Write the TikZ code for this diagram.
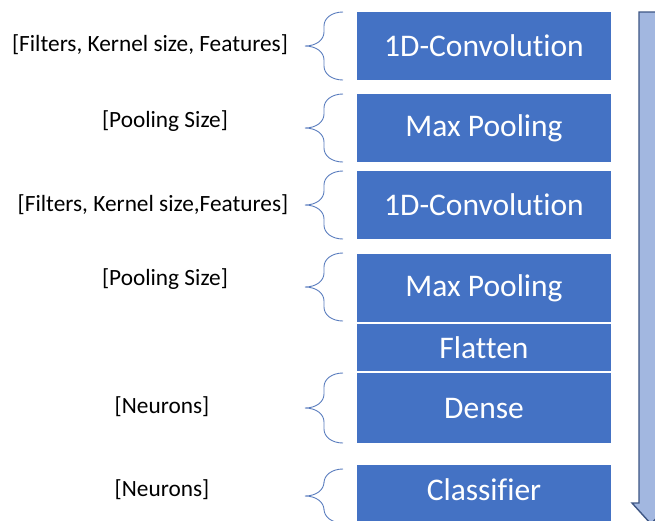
\documentclass[tikz,border=0pt]{standalone}
\usepackage{fontspec}
\setmainfont[Ligatures=NoCommon]{Carlito}
\definecolor{layerblue}{HTML}{4472C4}
\definecolor{flowfill}{HTML}{A2B7E0}
\definecolor{flowedge}{HTML}{3E5684}
\definecolor{bracecol}{HTML}{5A7DBE}
\tikzset{
  layer/.style={fill=layerblue, draw=none, text=white, minimum width=254pt,
    inner sep=0pt, font=\fontsize{31.5}{37}\selectfont},
  param/.style={text=black, inner sep=0pt, font=\fontsize{23.3}{28}\selectfont},
  bracestroke/.style={draw=bracecol, line width=0.9pt},
}
\begin{document}
\begin{tikzpicture}[x=1pt,y=-1pt]
  \useasboundingbox (0,0) rectangle (655,520);
  \clip (0,0) rectangle (655,520);

  % network layers
  \node[layer, minimum height=68pt] (conv1) at (484,46)  {1D-Convolution};
  \node[layer, minimum height=68pt] (pool1) at (484,128) {Max Pooling};
  \node[layer, minimum height=68pt] (conv2) at (484,205) {1D-Convolution};
  \node[layer, minimum height=68pt] (pool2) at (484,288) {Max Pooling};
  \node[layer, minimum height=47pt] (flat)  at (484,347.5) {Flatten};
  \node[layer, minimum height=70pt] (dense) at (484,408) {Dense};
  \node[layer, minimum height=56pt] (clf) at (484,493) {};
  \node[text=white, inner sep=0pt, font=\fontsize{31.5}{37}\selectfont]
    (clftext) at (484,490) {Classifier};

  % parameter labels
  \node[param] (p1) at (150,45)  {[Filters, Kernel size, Features]};
  \node[param] (p2) at (165,121) {[Pooling Size]};
  \node[param] (p3) at (153,205) {[Filters, Kernel size,Features]};
  \node[param] (p4) at (165,279) {[Pooling Size]};
  \node[param] (p5) at (162,407) {[Neurons]};
  \node[param] (p6) at (162,490) {[Neurons]};

  % curly braces: top, bottom of each
  \foreach \t/\b in {12/80, 94/162, 171/239, 253/321, 373/443, 469/523}{
    \pgfmathsetmacro{\m}{(\t+\b)/2}
    \draw[bracestroke]
      (343,\t) .. controls (332,\t) and (324,\t+6) .. (324,\t+14)
      -- (324,\m-14) .. controls (324,\m-6) and (316,\m) .. (305,\m)
      .. controls (316,\m) and (324,\m+6) .. (324,\m+14)
      -- (324,\b-14) .. controls (324,\b-6) and (332,\b) .. (343,\b);
  }

  % downward flow arrow
  \draw[fill=flowfill, draw=flowedge, line width=1.4pt, line join=miter]
    (639,12) -- (663,12) -- (663,503) -- (670,503) -- (651,524)
    -- (632,503) -- (639,503) -- cycle;
\end{tikzpicture}
\end{document}
